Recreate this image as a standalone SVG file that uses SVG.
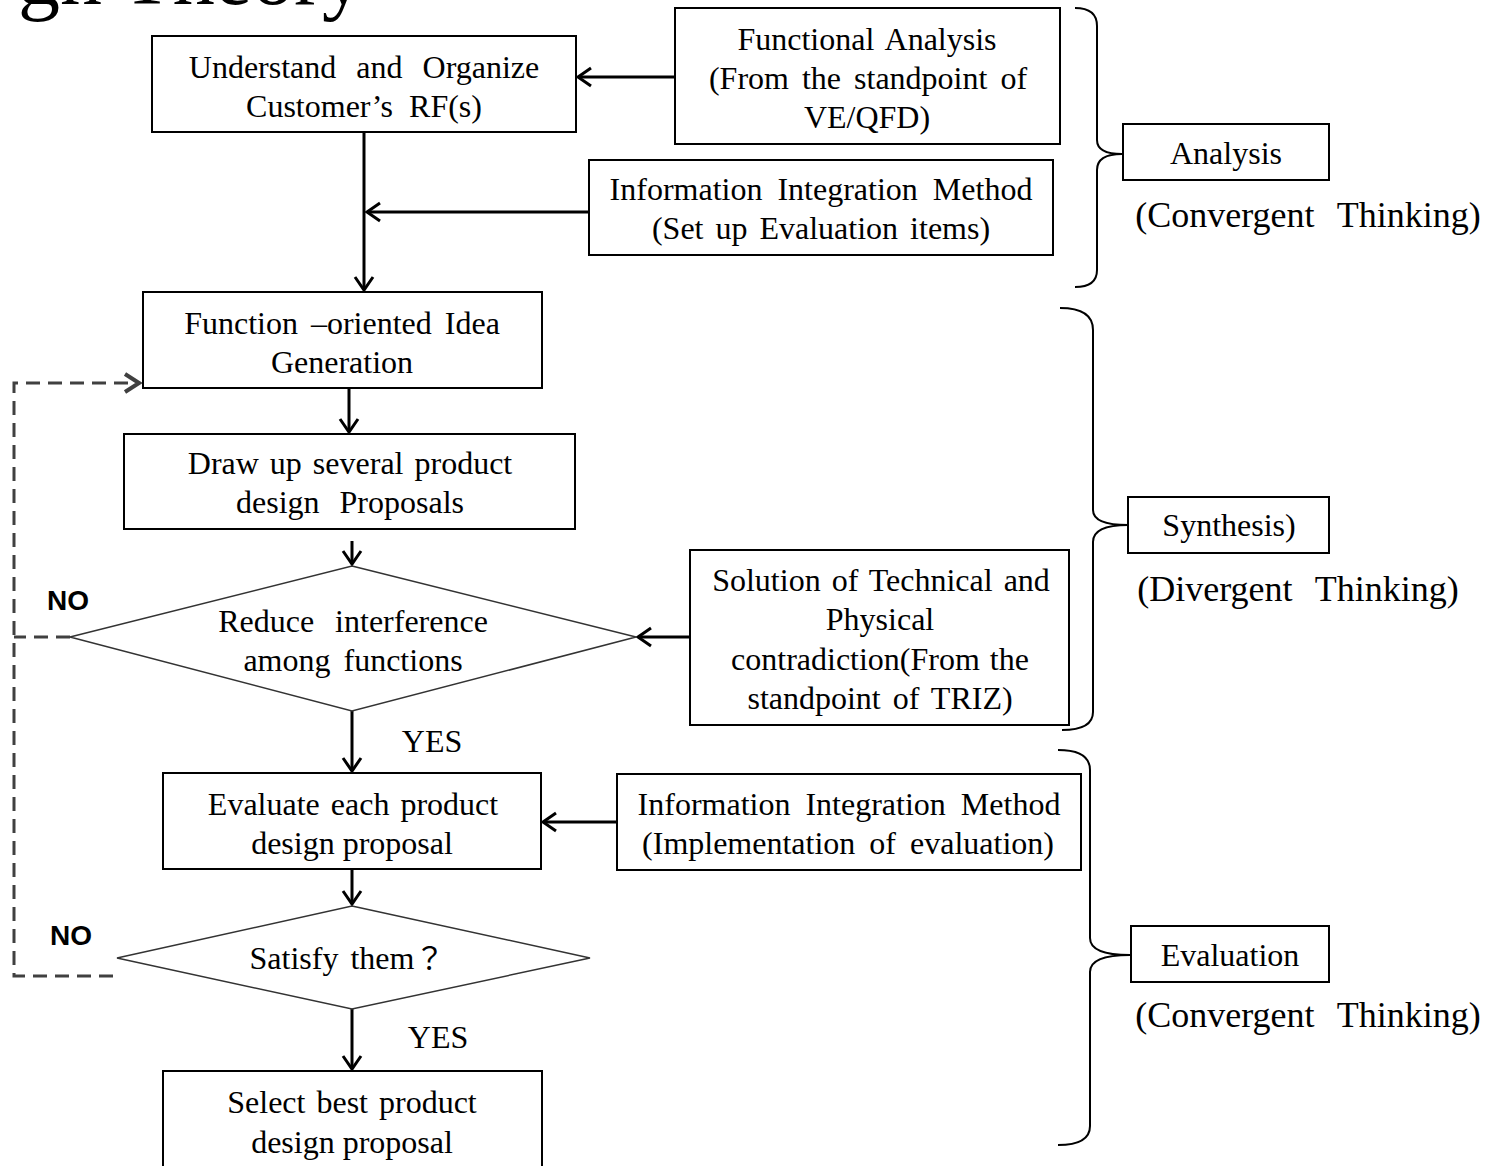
<svg xmlns="http://www.w3.org/2000/svg" width="1488" height="1166" viewBox="0 0 1488 1166">
<style>
.box{fill:#fff;stroke:#000;stroke-width:2}
.dia{fill:#fff;stroke:#333;stroke-width:1.5}
.t{font-family:"Liberation Serif","Times New Roman","Noto Sans CJK JP",serif;font-size:32px;fill:#000;text-anchor:middle}
.big{font-size:36px;word-spacing:14px}
.no{font-family:"Liberation Sans",Arial,sans-serif;font-size:28px;font-weight:bold;fill:#000}
.c{fill:none;stroke:#000;stroke-width:3}
.d{fill:none;stroke:#404040;stroke-width:3;stroke-dasharray:14 8}
.br{fill:none;stroke:#000;stroke-width:2}
</style>
<defs>
<marker id="ah" viewBox="-16 -11 19 22" refX="0" refY="0" markerWidth="19" markerHeight="22" markerUnits="userSpaceOnUse" orient="auto">
<path d="M-13,-9 L0,0 L-13,9" fill="none" stroke="#000" stroke-width="3"/>
</marker>
<marker id="ahg" viewBox="-16 -11 19 22" refX="0" refY="0" markerWidth="19" markerHeight="22" markerUnits="userSpaceOnUse" orient="auto">
<path d="M-14,-9 L0,0 L-14,9" fill="none" stroke="#404040" stroke-width="4"/>
</marker>
</defs>
<rect width="1488" height="1166" fill="#fff"/>
<text x="18" y="4" font-family="Liberation Serif,serif" font-size="84">gn Theory</text>

<g id="connectors">
<line class="c" x1="675" y1="77" x2="578" y2="77" marker-end="url(#ah)"/>
<line class="c" x1="589" y1="212" x2="367" y2="212" marker-end="url(#ah)"/>
<line class="c" x1="364" y1="132" x2="364" y2="290" marker-end="url(#ah)"/>
<line class="c" x1="349" y1="388" x2="349" y2="432" marker-end="url(#ah)"/>
<line class="c" x1="352" y1="541" x2="352" y2="564" marker-end="url(#ah)"/>
<line class="c" x1="690" y1="637" x2="638" y2="637" marker-end="url(#ah)"/>
<line class="c" x1="352" y1="711" x2="352" y2="771" marker-end="url(#ah)"/>
<line class="c" x1="617" y1="822" x2="543" y2="822" marker-end="url(#ah)"/>
<line class="c" x1="352" y1="869" x2="352" y2="904" marker-end="url(#ah)"/>
<line class="c" x1="352" y1="1009" x2="352" y2="1069" marker-end="url(#ah)"/>
<path class="d" d="M113,976 L14,976 L14,383 L139,383" marker-end="url(#ahg)"/>
<path class="d" d="M70,637 L14,637"/>
</g>

<g id="n-understand">
<rect class="box" x="152" y="36" width="424" height="96"/>
<text class="t" x="364" y="78" word-spacing="12">Understand and Organize</text>
<text class="t" x="364" y="117" word-spacing="8">Customer’s RF(s)</text>
</g>
<g id="n-functional">
<rect class="box" x="675" y="8" width="385" height="136"/>
<text class="t" x="867" y="50" word-spacing="4">Functional Analysis</text>
<text class="t" x="868" y="89" word-spacing="5">(From the standpoint of</text>
<text class="t" x="867" y="128">VE/QFD)</text>
</g>
<g id="n-iim1">
<rect class="box" x="589" y="160" width="464" height="95"/>
<text class="t" x="821" y="200" word-spacing="7">Information Integration Method</text>
<text class="t" x="821" y="239" word-spacing="4">(Set up Evaluation items)</text>
</g>
<g id="n-idea">
<rect class="box" x="143" y="292" width="399" height="96"/>
<text class="t" x="342" y="334" word-spacing="5">Function –oriented Idea</text>
<text class="t" x="342" y="373">Generation</text>
</g>
<g id="n-draw">
<rect class="box" x="124" y="434" width="451" height="95"/>
<text class="t" x="350" y="474" word-spacing="3">Draw up several product</text>
<text class="t" x="350" y="513" word-spacing="12">design Proposals</text>
</g>
<g id="n-reduce">
<polygon class="dia" points="352,566 636,637 352,711 70,637"/>
<text class="t" x="353" y="632" word-spacing="13">Reduce interference</text>
<text class="t" x="353" y="671" word-spacing="5">among functions</text>
</g>
<g id="n-triz">
<rect class="box" x="690" y="550" width="379" height="175"/>
<text class="t" x="881" y="591" word-spacing="3">Solution of Technical and</text>
<text class="t" x="880" y="630">Physical</text>
<text class="t" x="880" y="670" word-spacing="2">contradiction(From the</text>
<text class="t" x="880" y="709" word-spacing="4">standpoint of TRIZ)</text>
</g>
<g id="n-evaluate">
<rect class="box" x="163" y="773" width="378" height="96"/>
<text class="t" x="353" y="815" word-spacing="3">Evaluate each product</text>
<text class="t" x="352" y="854">design proposal</text>
</g>
<g id="n-iim2">
<rect class="box" x="617" y="774" width="464" height="96"/>
<text class="t" x="849" y="815" word-spacing="7">Information Integration Method</text>
<text class="t" x="848" y="854" word-spacing="6">(Implementation of evaluation)</text>
</g>
<g id="n-satisfy">
<polygon class="dia" points="352,906 590,958 352,1009 117,958"/>
<text class="t" x="347" y="969" word-spacing="4">Satisfy them<tspan font-family="Noto Sans CJK JP,Noto Sans CJK TC,sans-serif" font-size="30">？</tspan></text>
</g>
<g id="n-select">
<rect class="box" x="163" y="1071" width="379" height="110"/>
<text class="t" x="352" y="1113" word-spacing="3">Select best product</text>
<text class="t" x="352" y="1153">design proposal</text>
</g>
<g id="labels">
<text class="no" x="47" y="610">NO</text>
<text class="no" x="50" y="945">NO</text>
<text class="t" x="432" y="752">YES</text>
<text class="t" x="438" y="1048">YES</text>
</g>
<g id="n-analysis">
<path class="br" d="M1075,8 Q1097,8 1097,26 L1097,140 Q1097,154 1122,154 Q1097,154 1097,170 L1097,270 Q1097,287 1075,287"/>
<rect class="box" x="1123" y="124" width="206" height="56"/>
<text class="t" x="1226" y="164" font-size="31">Analysis</text>
<text class="t big" x="1308" y="227">(Convergent Thinking)</text>
</g>
<g id="n-synthesis">
<path class="br" d="M1060,308 Q1093,308 1093,330 L1093,510 Q1093,525 1128,525 Q1093,525 1093,542 L1093,712 Q1093,730 1062,730"/>
<rect class="box" x="1128" y="497" width="201" height="56"/>
<text class="t" x="1229" y="536">Synthesis)</text>
<text class="t big" x="1298" y="601">(Divergent Thinking)</text>
</g>
<g id="n-evaluation">
<path class="br" d="M1058,750 Q1090,750 1090,770 L1090,938 Q1090,955 1130,955 Q1090,955 1090,972 L1090,1126 Q1090,1145 1058,1145"/>
<rect class="box" x="1131" y="926" width="198" height="56"/>
<text class="t" x="1230" y="966">Evaluation</text>
<text class="t big" x="1308" y="1027">(Convergent Thinking)</text>
</g>
</svg>
